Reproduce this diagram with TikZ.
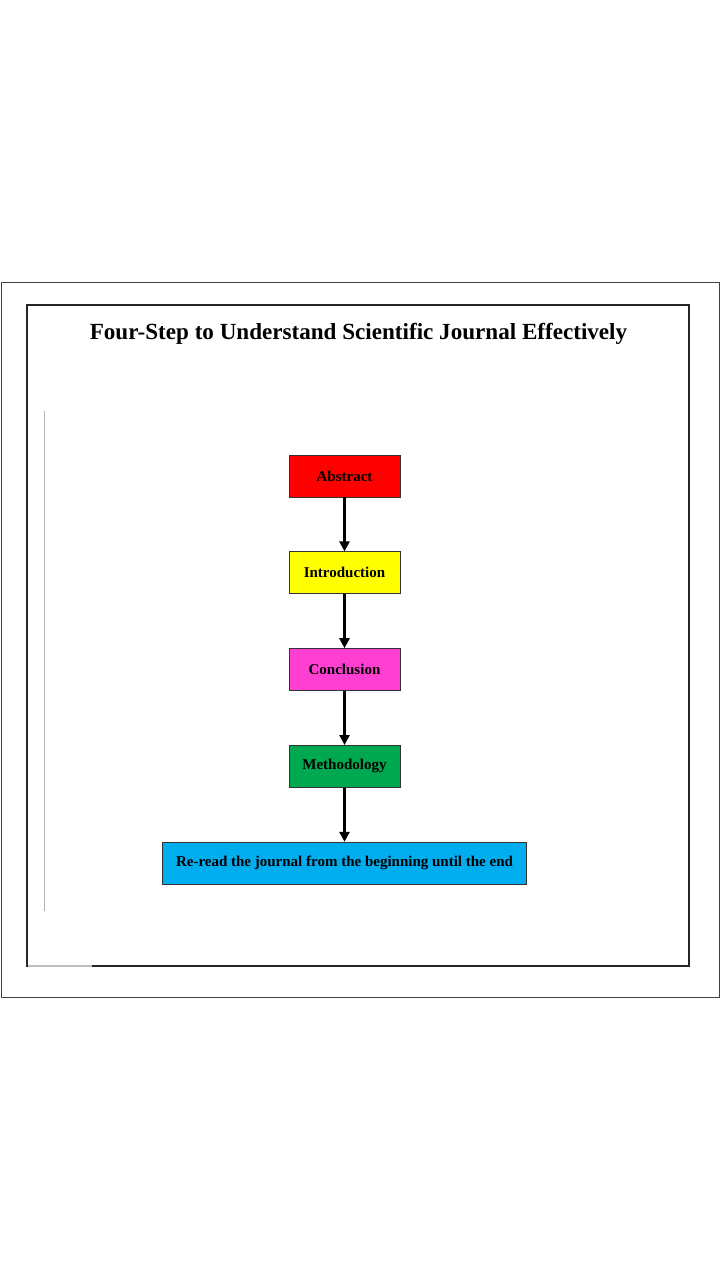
\documentclass[tikz,border=0pt]{standalone}
\usepackage{fontspec}
\setmainfont{Liberation Serif}
\usetikzlibrary{positioning,arrows.meta}
\definecolor{absred}{HTML}{FF0000}
\definecolor{introyellow}{HTML}{FFFF00}
\definecolor{conclpink}{HTML}{FF3FD2}
\definecolor{methgreen}{HTML}{00A84F}
\definecolor{rereadblue}{HTML}{00AEEF}
\tikzset{stepbox/.style={draw=black!80, line width=0.8pt, minimum width=111pt,
    minimum height=42pt, inner sep=0pt, font=\bfseries\fontsize{15}{18}\selectfont},
  flow/.style={black, line width=2.4pt, -{Triangle[length=10pt,width=10pt]}}}

\begin{document}
\begin{tikzpicture}[x=1pt,y=-1pt]
\useasboundingbox (0,0) rectangle (720,1280);
% frames
\draw[black!75, line width=1pt] (1,282) rectangle (719,997);
\draw[black!85, line width=1.3pt] (27,305) rectangle (689,966);
\draw[black!25, line width=1.4pt] (28,966) -- (92,966);
\draw[black!30, line width=1pt] (44,411) -- (44,911);
% title
\node[font=\bfseries\fontsize{23.1}{28}\selectfont] (title) at (358.5,334)
    {Four-Step to Understand Scientific Journal Effectively};
% steps
\node[stepbox, fill=absred] (abstract) at (344.5,476) {Abstract};
\node[stepbox, fill=introyellow, below=54pt of abstract] (intro) {Introduction};
\node[stepbox, fill=conclpink, below=54pt of intro] (concl) {Conclusion};
\node[stepbox, fill=methgreen, below=54pt of concl] (method) {Methodology};
\node[stepbox, fill=rereadblue, minimum width=364pt, below=54pt of method] (reread)
    {Re-read the journal from the beginning until the end};
% arrows
\draw[flow] (abstract) -- (intro);
\draw[flow] (intro) -- (concl);
\draw[flow] (concl) -- (method);
\draw[flow] (method) -- (reread);
\end{tikzpicture}
\end{document}
